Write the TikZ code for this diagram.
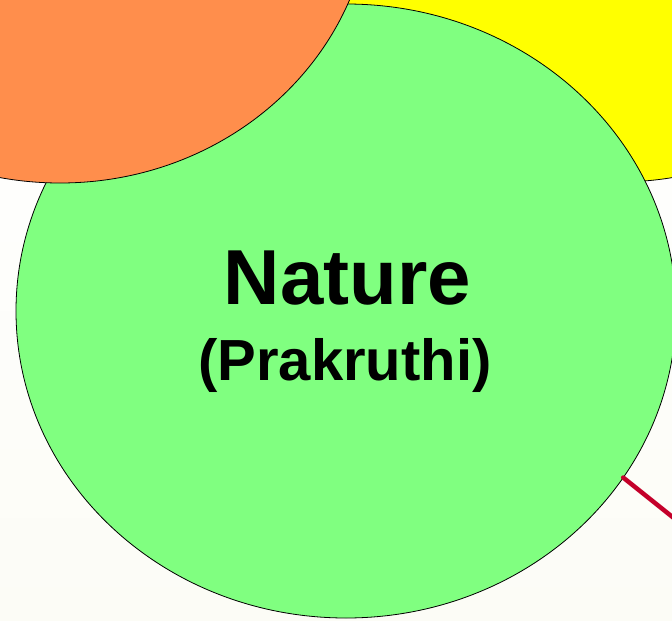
\documentclass[tikz,border=0pt]{standalone}
\usepackage{fontspec}
\setmainfont{Liberation Sans}
\usetikzlibrary{shapes.geometric}
\definecolor{orangec}{RGB}{255,142,76}
\definecolor{greenc}{RGB}{128,255,128}
\definecolor{yellowc}{RGB}{255,255,0}
\definecolor{redc}{RGB}{196,0,42}
\definecolor{bgc}{RGB}{252,252,246}
\tikzset{
  blob/.style={ellipse, draw=black, line width=0.8pt, inner sep=0pt, outer sep=0pt},
  title/.style={anchor=base, inner sep=0pt, font=\bfseries\fontsize{78}{78}\selectfont},
  subtitle/.style={anchor=base, inner sep=0pt, font=\bfseries\fontsize{58}{58}\selectfont},
  link/.style={draw=redc, line width=4.5pt, line cap=round}
}
\begin{document}
\begin{tikzpicture}[x=1pt,y=-1pt]
\useasboundingbox (0,0) rectangle (672,621);
\clip (0,0) rectangle (672,621);
\fill[top color=white, bottom color=bgc] (0,0) rectangle (672,621);
\node[blob, fill=yellowc, minimum width=624pt, minimum height=584pt] (yellow) at (618,-110) {};
\node[blob, fill=greenc, minimum width=660pt, minimum height=614pt] (nature) at (346,311) {};
\node[blob, fill=orangec, minimum width=624pt, minimum height=584pt] (orange) at (60,-109) {};
\coordinate (ext) at (700,539);
\draw[link] (nature.-31) -- (ext);
\node[title] (t1) at (347.5,304) {Nature};
\node[subtitle] (t2) at (345,380) {(Prakruthi)};
\end{tikzpicture}
\end{document}
